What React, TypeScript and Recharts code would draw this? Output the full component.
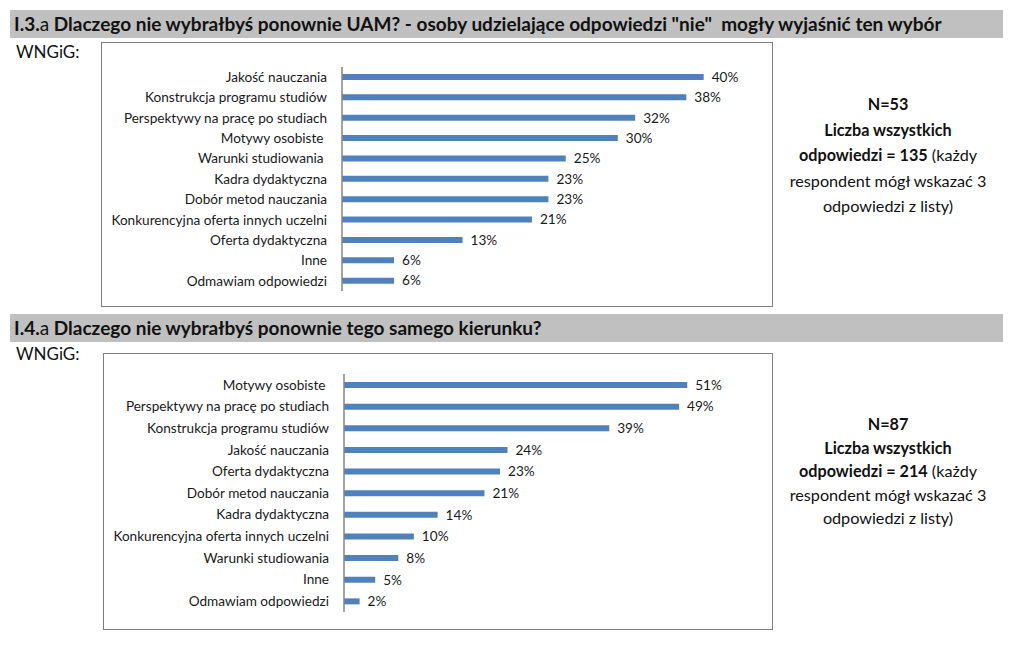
import React from 'react';
import { BarChart, Bar, XAxis, YAxis, LabelList } from 'recharts';

const categories1 = [
  'Jakość nauczania',
  'Konstrukcja programu studiów',
  'Perspektywy na pracę po studiach',
  'Motywy osobiste\u00A0',
  'Warunki studiowania\u00A0',
  'Kadra dydaktyczna',
  'Dobór metod nauczania',
  'Konkurencyjna oferta innych uczelni',
  'Oferta dydaktyczna',
  'Inne',
  'Odmawiam odpowiedzi',
];
const values1 = [39.6, 37.7, 32.1, 30.2, 24.5, 22.6, 22.6, 20.8, 13.2, 5.7, 5.7];

const categories2 = [
  'Motywy osobiste\u00A0',
  'Perspektywy na pracę po studiach',
  'Konstrukcja programu studiów',
  'Jakość nauczania',
  'Oferta dydaktyczna',
  'Dobór metod nauczania',
  'Kadra dydaktyczna',
  'Konkurencyjna oferta innych uczelni',
  'Warunki studiowania',
  'Inne',
  'Odmawiam odpowiedzi',
];
const values2 = [50.6, 49.4, 39.1, 24.1, 23.0, 20.7, 13.8, 10.3, 8.0, 4.6, 2.3];

const data1 = categories1.map((name, i) => ({ name, value: values1[i] }));
const data2 = categories2.map((name, i) => ({ name, value: values2[i] }));

const FONT = 'Lato, "Open Sans", sans-serif';
const BAR = '#4F81BD';
const fmt = (v: any) => `${Math.round(Number(v))}%`;

function Chart({ data, width, height, yWidth, top, bottom, right, max }: any) {
  return (
    <BarChart
      width={width}
      height={height}
      data={data}
      layout="vertical"
      margin={{ top, bottom, left: 0, right }}
      barCategoryGap={0}
    >
      <XAxis type="number" domain={[0, max]} hide />
      <YAxis
        type="category"
        dataKey="name"
        width={yWidth}
        axisLine={{ stroke: '#868686', strokeWidth: 1.5 }}
        tickLine={false}
        tickSize={12}
        tickMargin={3}
        interval={0}
        tick={{ fill: '#1a1a1a', fontSize: 13.6, fontFamily: FONT }}
      />
      <Bar dataKey="value" fill={BAR} barSize={6} isAnimationActive={false}>
        <LabelList
          dataKey="value"
          position="right"
          offset={8}
          formatter={fmt}
          style={{ fill: '#1a1a1a', fontSize: 13.6, fontFamily: FONT }}
        />
      </Bar>
    </BarChart>
  );
}

function TitleBar({ top, num, text }: any) {
  return (
    <div
      style={{
        position: 'absolute',
        left: 10,
        top,
        width: 993,
        height: 28,
        background: '#c0c0c0',
        fontFamily: FONT,
        fontSize: 19,
        lineHeight: '28px',
        color: '#111',
        whiteSpace: 'pre',
      }}
    >
      <span style={{ marginLeft: 4, fontWeight: 700 }}>{num}</span>
      <span style={{ fontWeight: 400 }}>a</span>
      <span style={{ fontWeight: 700 }}> {text}</span>
    </div>
  );
}

function SideNote({ top, n, total, lh }: any) {
  return (
    <div
      style={{
        position: 'absolute',
        left: 783,
        top,
        width: 210,
        textAlign: 'center',
        fontFamily: FONT,
        fontSize: 16.2,
        lineHeight: `${lh}px`,
        color: '#111',
      }}
    >
      <div style={{ fontWeight: 700 }}>{`N=${n}`}</div>
      <div style={{ fontWeight: 700 }}>Liczba wszystkich</div>
      <div>
        <b>{`odpowiedzi = ${total}`}</b> (każdy
      </div>
      <div>respondent mógł wskazać 3</div>
      <div>odpowiedzi z listy)</div>
    </div>
  );
}

export default function App() {
  return (
    <div
      style={{
        position: 'fixed',
        left: 0,
        top: 0,
        width: 1024,
        height: 652,
        background: '#fff',
        overflow: 'hidden',
      }}
    >
      <TitleBar
        top={10}
        num="I.3."
        text={'Dlaczego nie wybrałbyś ponownie UAM? - osoby udzielające odpowiedzi "nie"  mogły wyjaśnić ten wybór'}
      />
      <div style={{ position: 'absolute', left: 16, top: 41, fontFamily: FONT, fontSize: 17, color: '#111' }}>WNGiG:</div>
      <div style={{ position: 'absolute', left: 101, top: 42, width: 670, height: 263, border: '1px solid #808080' }}>
        <Chart data={data1} width={670} height={263} yWidth={240} top={24} bottom={15} right={19} max={45} />
      </div>
      <SideNote top={91} n={53} total={135} lh={25.5} />

      <TitleBar top={314} num="I.4." text="Dlaczego nie wybrałbyś ponownie tego samego kierunku?" />
      <div style={{ position: 'absolute', left: 16, top: 343, fontFamily: FONT, fontSize: 17, color: '#111' }}>WNGiG:</div>
      <div style={{ position: 'absolute', left: 103, top: 353, width: 668, height: 275, border: '1px solid #808080' }}>
        <Chart data={data2} width={668} height={275} yWidth={240} top={20} bottom={17} right={21} max={60} />
      </div>
      <SideNote top={412} n={87} total={214} lh={23.5} />
    </div>
  );
}
